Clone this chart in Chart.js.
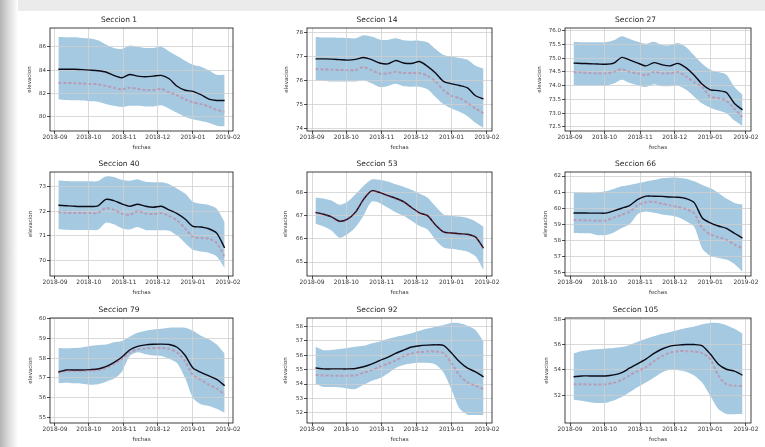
<!DOCTYPE html>
<html>
<head>
<meta charset="utf-8">
<script src="https://cdn.jsdelivr.net/npm/chart.js@4.4.0/dist/chart.umd.min.js"></script>
<style>
body{margin:0;width:765px;height:447px;overflow:hidden;background:#fff;position:relative}
#sup{position:absolute;left:0;top:0;width:765px;height:11px;background:#ebebeb}
#izq{position:absolute;left:0;top:0;width:18px;height:447px;background:linear-gradient(to right,#b4b4b4,#d4d4d4 7px,#f0f0f0 14px,#fff)}
canvas{position:absolute}
</style>
</head>
<body>
<div id="sup"></div><div id="izq"></div>
<script>
// fechas de cada punto (semanal)
const fechas = ['2018-09-04','2018-09-11','2018-09-18','2018-09-25','2018-10-02','2018-10-09','2018-10-16','2018-10-23',
  '2018-10-30','2018-11-06','2018-11-13','2018-11-20','2018-11-27','2018-12-04','2018-12-11','2018-12-18',
  '2018-12-25','2019-01-01','2019-01-08','2019-01-15','2019-01-22','2019-01-29'];
const meses = ['2018-09','2018-10','2018-11','2018-12','2019-01','2019-02'];
const titulos = ['Seccion 1','Seccion 14','Seccion 27','Seccion 40','Seccion 53','Seccion 66','Seccion 79','Seccion 92','Seccion 105'];

// linea = negra, discont = roja discontinua, sup/inf = banda
const linea1 = [84.07,84.07,84.07,84.04,84.0,83.95,83.84,83.55,83.35,83.63,83.49,83.43,83.49,83.55,83.26,82.62,82.28,82.19,81.9,81.53,81.41,81.41];
const discont1 = [82.9,82.9,82.88,82.85,82.82,82.78,82.65,82.5,82.35,82.5,82.4,82.3,82.3,82.4,82.1,81.85,81.5,81.25,81.1,80.9,80.6,80.45];
const sup1 = [86.85,86.8,86.8,86.75,86.7,86.55,86.2,85.9,85.8,86.1,86.0,85.9,85.9,86.0,85.6,85.2,84.8,84.45,84.3,84.0,83.6,83.6];
const inf1 = [81.5,81.45,81.42,81.4,81.35,81.3,81.1,80.95,80.85,80.95,80.95,80.9,80.9,81.0,80.7,80.35,80.0,79.8,79.65,79.5,79.25,79.2];

const linea14 = [76.89,76.89,76.88,76.86,76.84,76.87,76.95,76.86,76.72,76.68,76.82,76.72,76.7,76.78,76.58,76.3,75.95,75.85,75.78,75.68,75.35,75.22];
const discont14 = [76.47,76.45,76.44,76.43,76.42,76.42,76.55,76.42,76.28,76.28,76.35,76.3,76.3,76.3,76.18,75.95,75.58,75.35,75.25,75.05,74.82,74.62];
const sup14 = [77.8,77.78,77.78,77.77,77.76,77.75,77.88,77.82,77.7,77.68,77.75,77.67,77.65,77.65,77.58,77.3,77.05,76.98,76.93,76.85,76.6,76.48];
const inf14 = [76.0,75.97,75.95,75.95,75.95,75.95,76.0,75.87,75.72,75.75,75.85,75.75,75.73,75.73,75.62,75.3,75.0,74.82,74.68,74.5,74.22,74.0];

const linea27 = [74.82,74.81,74.8,74.79,74.78,74.82,75.03,74.93,74.82,74.72,74.84,74.76,74.72,74.81,74.65,74.38,74.05,73.85,73.82,73.75,73.35,73.12];
const discont27 = [74.5,74.48,74.46,74.45,74.45,74.5,74.6,74.5,74.45,74.38,74.5,74.45,74.45,74.5,74.33,74.13,73.95,73.6,73.55,73.45,73.15,72.86];
const sup27 = [75.6,75.58,75.58,75.58,75.58,75.65,75.8,75.7,75.6,75.53,75.6,75.48,75.47,75.55,75.4,75.1,74.8,74.58,74.5,74.4,73.95,73.67];
const inf27 = [74.02,74.0,74.0,74.0,74.0,74.08,74.22,74.1,74.02,73.95,74.05,73.98,73.98,74.0,73.85,73.6,73.35,73.2,73.1,73.0,72.73,72.53];

const linea40 = [72.24,72.22,72.2,72.19,72.19,72.22,72.48,72.43,72.3,72.2,72.28,72.2,72.16,72.2,72.05,71.9,71.68,71.38,71.35,71.28,71.1,70.5];
const discont40 = [71.95,71.93,71.92,71.92,71.92,71.93,72.13,72.06,71.9,71.85,72.0,71.9,71.88,71.92,71.8,71.62,71.3,70.95,70.9,70.88,70.7,70.15];
const sup40 = [73.25,73.23,73.22,73.22,73.22,73.23,73.42,73.4,73.28,73.24,73.3,73.2,73.18,73.18,73.1,72.92,72.72,72.38,72.3,72.25,72.1,71.55];
const inf40 = [71.26,71.24,71.23,71.23,71.23,71.24,71.53,71.46,71.3,71.25,71.35,71.23,71.22,71.22,71.2,71.0,70.7,70.42,70.35,70.3,70.15,69.68];

const linea53 = [67.14,67.06,66.95,66.76,66.85,67.15,67.7,68.07,68.0,67.87,67.75,67.6,67.35,67.12,67.0,66.6,66.3,66.25,66.22,66.2,66.08,65.6];
const discont53 = [67.13,67.05,66.94,66.75,66.84,67.14,67.69,68.06,67.99,67.86,67.74,67.59,67.34,67.11,66.99,66.59,66.29,66.24,66.21,66.19,66.07,65.59];
const sup53 = [67.78,67.74,67.65,67.47,67.6,67.92,68.28,68.56,68.55,68.47,68.35,68.25,68.12,67.95,67.77,67.4,67.05,67.0,66.96,66.9,66.75,66.52];
const inf53 = [66.65,66.53,66.36,66.05,66.2,66.5,67.0,67.6,67.55,67.35,67.15,67.0,66.78,66.55,66.4,65.95,65.63,65.57,65.52,65.45,65.25,64.65];

const linea66 = [59.71,59.71,59.7,59.7,59.7,59.84,60.0,60.18,60.55,60.75,60.75,60.74,60.7,60.68,60.6,60.35,59.4,59.1,58.9,58.75,58.45,58.15];
const discont66 = [59.29,59.26,59.24,59.23,59.23,59.42,59.6,59.8,60.2,60.38,60.4,60.28,60.18,60.08,59.95,59.68,58.78,58.38,58.2,58.05,57.75,57.52];
const sup66 = [61.0,60.97,60.95,60.98,61.05,61.2,61.36,61.45,61.55,61.66,61.75,61.87,61.9,61.9,61.83,61.67,61.45,61.25,60.95,60.6,60.33,60.23];
const inf66 = [58.46,58.45,58.45,58.33,58.34,58.5,58.78,59.03,59.65,59.8,59.72,59.62,59.55,59.45,59.2,58.85,57.5,57.05,56.92,56.82,56.55,56.06];

const linea79 = [57.3,57.4,57.4,57.4,57.42,57.45,57.57,57.78,58.05,58.42,58.6,58.68,58.71,58.72,58.7,58.56,58.15,57.5,57.28,57.1,56.92,56.6];
const discont79 = [57.25,57.35,57.35,57.35,57.37,57.4,57.5,57.7,57.95,58.3,58.45,58.5,58.52,58.52,58.48,58.3,57.85,57.15,56.9,56.65,56.45,56.15];
const sup79 = [58.52,58.5,58.52,58.55,58.62,58.67,58.7,58.82,58.88,59.1,59.3,59.4,59.47,59.5,59.55,59.56,59.55,59.4,59.15,58.97,58.7,58.24];
const inf79 = [56.73,56.75,56.72,56.7,56.65,56.67,56.8,56.95,57.3,58.1,58.3,58.2,58.14,58.12,57.98,57.75,57.0,55.97,55.65,55.57,55.42,55.22];

const linea92 = [55.12,55.05,55.05,55.05,55.05,55.08,55.2,55.38,55.63,55.85,56.12,56.35,56.57,56.66,56.7,56.72,56.68,56.15,55.55,55.1,54.85,54.5];
const discont92 = [54.63,54.6,54.58,54.58,54.58,54.6,54.78,54.95,55.2,55.4,55.62,55.93,56.12,56.22,56.26,56.26,56.15,55.45,54.6,54.12,53.88,53.65];
const sup92 = [56.6,56.35,56.36,56.43,56.5,56.58,56.65,56.82,56.95,57.12,57.26,57.38,57.52,57.7,57.85,57.98,58.1,58.24,58.22,58.05,57.75,56.95];
const inf92 = [54.0,53.8,53.8,53.78,53.7,53.65,53.95,54.22,54.4,54.72,55.12,55.33,55.43,55.48,55.47,55.35,54.8,53.6,52.3,51.88,51.85,51.85];

const linea105 = [53.45,53.52,53.52,53.52,53.52,53.6,53.78,54.15,54.5,54.85,55.3,55.65,55.88,55.96,56.0,56.0,55.9,55.25,54.45,54.05,53.9,53.58];
const discont105 = [52.87,52.86,52.85,52.85,52.86,52.98,53.2,53.58,53.92,54.2,54.68,55.08,55.36,55.48,55.48,55.45,55.32,54.85,53.55,52.85,52.75,52.72];
const sup105 = [55.3,55.5,55.58,55.62,55.68,55.72,55.8,55.97,56.22,56.45,56.65,56.85,57.0,57.15,57.3,57.42,57.6,57.71,57.7,57.53,57.25,56.87];
const inf105 = [51.64,51.56,51.45,51.38,51.4,51.58,51.85,52.25,52.65,53.0,53.4,53.8,54.0,53.97,53.85,53.55,52.98,51.95,50.9,50.52,50.5,50.51];

// marcas del eje y y limites de cada panel
const yTicks = [[80,82,84,86],[74,75,76,77,78],[72.5,73,73.5,74,74.5,75,75.5,76],
  [70,71,72,73],[65,66,67,68],[56,57,58,59,60,61,62],
  [55,56,57,58,59,60],[52,53,54,55,56,57,58],[52,54,56,58]];
const yLim = [[78.8,87.6],[73.88,78.18],[72.35,76.1],[69.35,73.6],[64.4,68.88],[55.8,62.25],[54.7,60.05],[51.3,58.58],[49.8,58.1]];

const paneles = [
  [linea1, discont1, sup1, inf1],
  [linea14, discont14, sup14, inf14],
  [linea27, discont27, sup27, inf27],
  [linea40, discont40, sup40, inf40],
  [linea53, discont53, sup53, inf53],
  [linea66, discont66, sup66, inf66],
  [linea79, discont79, sup79, inf79],
  [linea92, discont92, sup92, inf92],
  [linea105, discont105, sup105, inf105]
];

const dia = s => (Date.parse(s) - Date.parse('2018-09-01')) / 864e5;
const xs = fechas.map(dia);
const mesDias = meses.map(m => dia(m + '-01'));

// posicion de cada area de trazado
const colX = [50, 307, 565], colW = [183, 185, 186];
const filY = [28, 172, 318], filH = [103, 104, 105];
const yTitOff = [20, 20, 25, 19, 21, 19, 19, 21, 18];

const fuente = size => ({family: 'DejaVu Sans', size: size, weight: 'normal'});

// marco negro alrededor del area
const marco = {
  id: 'marco',
  afterDraw(c) {
    const a = c.chartArea, ctx = c.ctx;
    ctx.save();
    ctx.strokeStyle = '#111';
    ctx.lineWidth = 0.8;
    ctx.strokeRect(a.left, a.top, a.right - a.left, a.bottom - a.top);
    ctx.restore();
  }
};

paneles.forEach((p, i) => {
  const col = i % 3, fil = Math.floor(i / 3);
  const L = colX[col] - 45, T = filY[fil] - 20;
  const W = 45 + colW[col] + 14, H = 20 + filH[fil] + 26;
  const cv = document.createElement('canvas');
  cv.style.left = L + 'px';
  cv.style.top = T + 'px';
  cv.width = W; cv.height = H;
  cv.style.width = W + 'px'; cv.style.height = H + 'px';
  document.body.appendChild(cv);

  const pts = arr => arr.map((v, k) => ({x: xs[k], y: v}));
  const dec = i === 2 ? 1 : 0;

  new Chart(cv, {
    type: 'line',
    data: {
      datasets: [
        {data: pts(p[2]), fill: '+1', backgroundColor: 'rgba(31,119,180,0.4)', borderWidth: 0, pointRadius: 0},
        {data: pts(p[3]), fill: false, borderWidth: 0, pointRadius: 0},
        {data: pts(p[1]), fill: false, borderColor: 'rgba(225,60,90,0.32)', borderDash: [3, 2], borderWidth: 2, pointRadius: 0},
        {data: pts(p[0]), fill: false, borderColor: '#0b0b18', borderWidth: 1.4, pointRadius: 0}
      ]
    },
    options: {
      responsive: false,
      animation: false,
      devicePixelRatio: 1,
      layout: {padding: {left: 0, right: 14, top: 0, bottom: 0}},
      elements: {line: {tension: 0.25}},
      plugins: {
        legend: {display: false},
        tooltip: {enabled: false},
        filler: {drawTime: 'beforeDraw'},
        title: {display: true, text: titulos[i], color: '#222', font: fuente(7.5), padding: {top: 7.5, bottom: 3.5}}
      },
      scales: {
        x: {
          type: 'linear', min: -4.4, max: 157.4,
          afterBuildTicks: s => { s.ticks = mesDias.map(v => ({value: v})); },
          afterFit: s => { s.height = 26; },
          ticks: {callback: v => meses[mesDias.indexOf(v)], maxRotation: 0, autoSkip: false, padding: 0, color: '#333', font: fuente(6)},
          grid: {color: '#d0d0d0', lineWidth: 0.8, tickLength: 3, tickColor: '#222'},
          border: {display: false},
          title: {display: true, text: 'fechas', color: '#333', font: fuente(5.5), padding: {top: 0, bottom: 6.4}}
        },
        y: {
          min: yLim[i][0], max: yLim[i][1],
          afterBuildTicks: s => { s.ticks = yTicks[i].map(v => ({value: v})); },
          afterFit: s => { s.width = 45; },
          ticks: {callback: v => v.toFixed(dec), padding: 1, color: '#333', font: fuente(5.5)},
          grid: {color: '#d0d0d0', lineWidth: 0.8, tickLength: 3, tickColor: '#222'},
          border: {display: false},
          title: {display: true, text: 'elevacion', color: '#333', font: fuente(5.5), padding: {top: 45 - yTitOff[i] - 3.3, bottom: 0}}
        }
      }
    },
    plugins: [marco]
  });
});
</script>
</body>
</html>
